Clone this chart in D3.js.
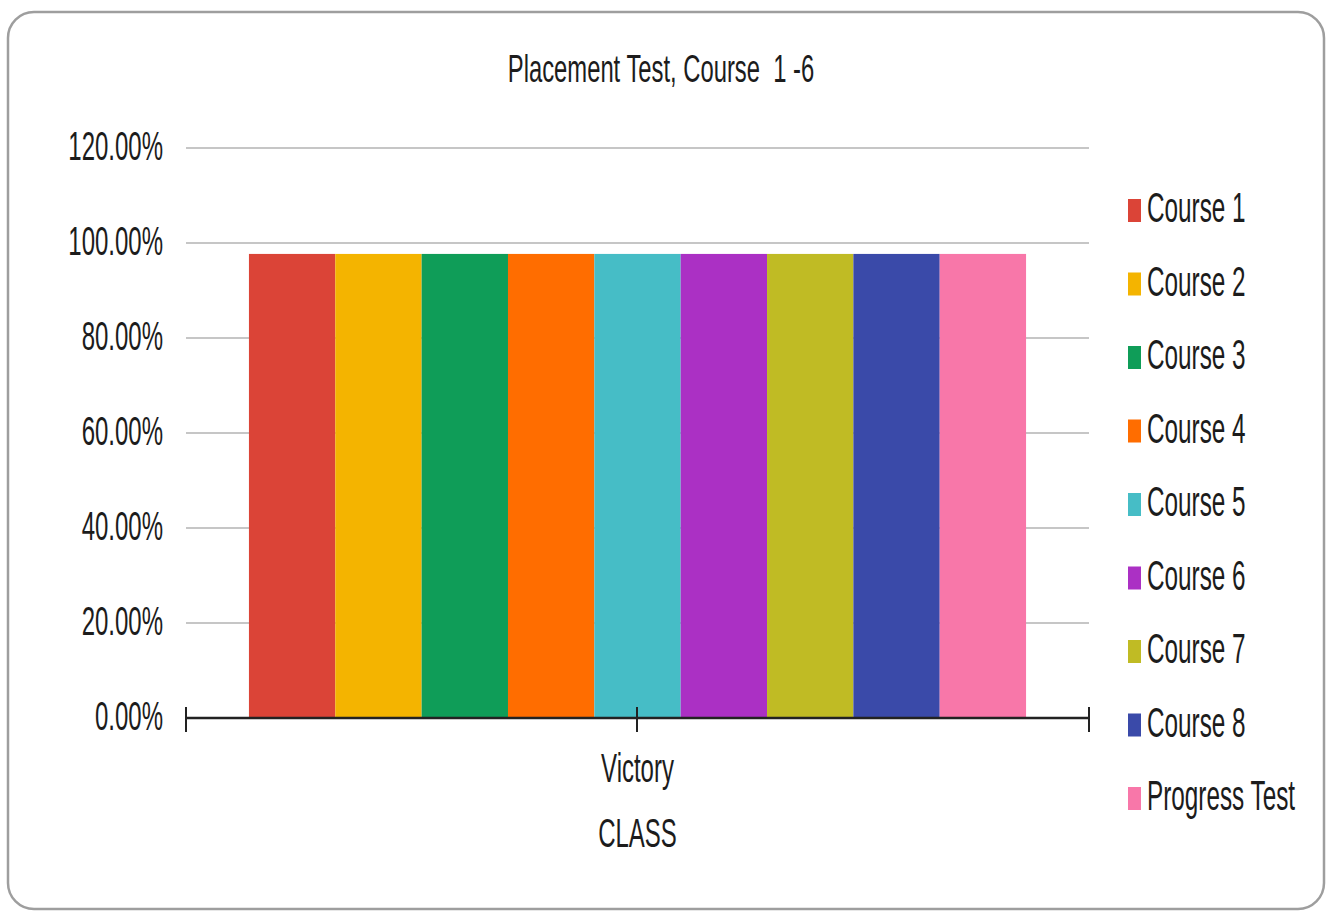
<!DOCTYPE html>
<html>
<head>
<meta charset="utf-8">
<script src="https://d3js.org/d3.v7.min.js"></script>
<style>
  html, body { margin: 0; padding: 0; background: #fff; }
  svg { display: block; }
  text { font-family: "Liberation Sans", Arial, sans-serif; fill: #1c1c1c; white-space: pre; }
</style>
</head>
<body>
<svg id="chart" width="1331" height="913"></svg>
<script>
// Chart content
const chartTitle = "Placement Test, Course  1 -6";
const categories = ["Victory"];
const axisTitle = "CLASS";
const seriesNames = ["Course 1", "Course 2", "Course 3", "Course 4", "Course 5",
                     "Course 6", "Course 7", "Course 8", "Progress Test"];
// One value (percent) per series for the single category
const seriesValues = [97.7, 97.7, 97.7, 97.7, 97.7, 97.7, 97.7, 97.7, 97.7];
const seriesColors = ["#db4437", "#f4b400", "#0f9d58", "#ff6d00", "#46bdc6",
                      "#ab30c4", "#c0bb24", "#3a4aa9", "#f877a9"];
const yTicks = [0, 20, 40, 60, 80, 100, 120];
const yTickLabels = ["0.00%", "20.00%", "40.00%", "60.00%", "80.00%", "100.00%", "120.00%"];

const svg = d3.select("#chart");
const plot = { left: 186, right: 1089, top: 148, bottom: 718 };
const STRETCH = 1.72;   // tall, narrow lettering

// helper: text with vertical stretch
function label(g, x, y, str, size, anchor, sy) {
  return g.append("text")
    .attr("transform", `translate(${x},${y}) scale(1,${sy})`)
    .attr("text-anchor", anchor)
    .attr("font-size", size)
    .attr("xml:space", "preserve")
    .text(str);
}

// card frame
svg.append("rect")
  .attr("x", 8).attr("y", 12)
  .attr("width", 1316).attr("height", 897)
  .attr("rx", 26).attr("ry", 26)
  .attr("fill", "#fff")
  .attr("stroke", "#9e9e9e")
  .attr("stroke-width", 2.5);

// title
label(svg, 661, 82, chartTitle, 23.8, "middle", 1.6);

// scales
const y = d3.scaleLinear().domain([0, 120]).range([plot.bottom, plot.top]);
const x0 = d3.scaleBand().domain(categories)
  .range([plot.left, plot.right])
  .paddingInner(0).paddingOuter(0.081);
const x1 = d3.scaleBand().domain(seriesNames)
  .range([0, x0.bandwidth()]).padding(0);

// gridlines
svg.append("g").selectAll("line")
  .data(yTicks.filter(d => d > 0))
  .join("line")
  .attr("x1", plot.left).attr("x2", plot.right)
  .attr("y1", d => y(d)).attr("y2", d => y(d))
  .attr("stroke", "#c6c6c6").attr("stroke-width", 2);

// y tick labels
const yLab = svg.append("g");
yTicks.forEach((t, i) => label(yLab, 163, y(t) + 11.5, yTickLabels[i], 24, "end", STRETCH));

// bars
const groups = svg.append("g").selectAll("g")
  .data(categories)
  .join("g")
  .attr("transform", d => `translate(${x0(d)},0)`);
groups.selectAll("rect")
  .data(() => seriesNames.map((s, i) => ({ s, v: seriesValues[i], c: seriesColors[i] })))
  .join("rect")
  .attr("x", d => x1(d.s))
  .attr("width", x1.bandwidth())
  .attr("y", d => y(d.v))
  .attr("height", d => y(0) - y(d.v))
  .attr("fill", d => d.c);

// category axis
const axisG = svg.append("g");
axisG.append("line")
  .attr("x1", plot.left).attr("x2", plot.right)
  .attr("y1", y(0)).attr("y2", y(0))
  .attr("stroke", "#222").attr("stroke-width", 2.5);
const tickXs = [plot.left, x0(categories[0]) + x0.bandwidth() / 2 - 0.5, plot.right];
axisG.selectAll("line.tick")
  .data(tickXs)
  .join("line")
  .attr("class", "tick")
  .attr("x1", d => d).attr("x2", d => d)
  .attr("y1", y(0) - 11).attr("y2", y(0) + 14)
  .attr("stroke", "#222").attr("stroke-width", 2);

categories.forEach(c => label(axisG, x0(c) + x0.bandwidth() / 2, 782, c, 24, "middle", STRETCH));
label(axisG, x0(categories[0]) + x0.bandwidth() / 2, 847, axisTitle, 24, "middle", STRETCH);

// legend
const legend = svg.append("g");
seriesNames.forEach((s, i) => {
  const base = 222 + i * 73.5;
  legend.append("rect")
    .attr("x", 1128).attr("y", base - 23)
    .attr("width", 13).attr("height", 23)
    .attr("fill", seriesColors[i]);
  label(legend, 1147, base, s, 24.3, "start", STRETCH);
});
</script>
</body>
</html>
